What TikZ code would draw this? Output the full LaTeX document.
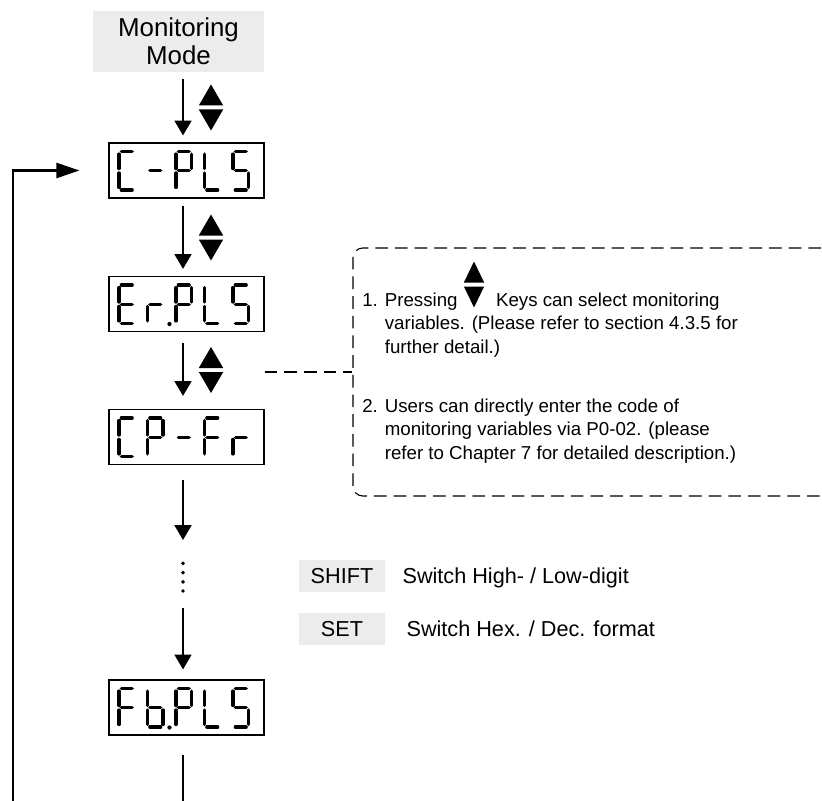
\documentclass[tikz,border=0pt]{standalone}
\usepackage{fontspec}
\setmainfont{Liberation Sans}
\usetikzlibrary{positioning,arrows.meta}

% one segment of a seven-segment digit, y runs downwards
\newcommand\ledseg[1]{%
  \if#1a\draw[segment] (2.4,0) -- (13.1,0);\fi
  \if#1b\draw[segment] (15.5,2.6) -- (15.5,17);\fi
  \if#1c\draw[segment] (15.5,21.5) -- (15.5,35.9);\fi
  \if#1d\draw[segment] (2.4,38.5) -- (13.1,38.5);\fi
  \if#1e\draw[segment] (0,21.5) -- (0,35.9);\fi
  \if#1f\draw[segment] (0,2.6) -- (0,17);\fi
  \if#1g\draw[segment] (2.4,19.25) -- (13.1,19.25);\fi
  \if#1p\fill (22,39) circle (1.5pt);\fi}
% five digits inside a display box
\newcommand\ledword[2]{%
  \foreach \segs [count=\i] in {#2}{%
    \begin{scope}[shift={(#1.center)}, shift={({-67.5+28.5*(\i-1)},-19)}]
      \foreach \s in \segs {\ledseg{\s}}
    \end{scope}}}

\begin{document}
\begin{tikzpicture}[x=0.025cm, y=-0.025cm,
  display/.style={draw, line width=0.8pt, minimum width=3.875cm, minimum height=1.375cm},
  keybox/.style={fill=gray!15, minimum width=2.15cm, minimum height=0.8cm, inner sep=0pt, font=\fontsize{15.4}{18}\selectfont},
  legend/.style={inner sep=0pt, font=\fontsize{15.4}{18}\selectfont},
  note/.style={inner sep=0pt, align=left, font=\fontsize{13.3}{16.4}\selectfont},
  segment/.style={line width=2.4pt, line cap=round},
  arr/.style={line width=1.3pt, -{Triangle[width=12pt,length=10.5pt]}},
  dashline/.style={line width=0.8pt, dash pattern=on 9pt off 5pt},
  updown/.pic={\fill (-12.2,-2) -- (12.2,-2) -- (0,-23) -- cycle;
               \fill (-12.2,2) -- (12.2,2) -- (0,23) -- cycle;}
]
\useasboundingbox (0,0) rectangle (822,801);
\clip (0,0) rectangle (822,801);

\node[fill=gray!15, minimum width=4.275cm, minimum height=1.525cm, inner sep=0pt,
  align=center, font=\fontsize{18.4}{20.1}\selectfont] (mon) at (178.5,41.5) {Monitoring\\Mode};

\node[display] (cpls) at (186.5,170.5) {};
\node[display] (erpls) at (186.5,304) {};
\node[display] (cpfr) at (186.5,437) {};
\node[display] (fbpls) at (186.5,707.5) {};

\ledword{cpls}{{a,f,e,d},{g},{a,b,f,g,e},{f,e,d},{a,f,g,c,d}}
\ledword{erpls}{{a,f,g,e,d},{e,g,p},{a,b,f,g,e},{f,e,d},{a,f,g,c,d}}
\ledword{cpfr}{{a,f,e,d},{a,b,f,g,e},{g},{a,f,g,e},{e,g}}
\ledword{fbpls}{{a,f,g,e},{f,g,e,d,c,p},{a,b,f,g,e},{f,e,d},{a,f,g,c,d}}

\coordinate (ax) at (183,0);
\coordinate (dots) at (183,577);
\coordinate (loopR) at (183,805);
\coordinate (loopL) at (13,805);

% main chain
\draw[arr, shorten <=0.175cm, shorten >=0.175cm] (mon.south -| ax) -- (cpls.north -| ax);
\draw[arr, shorten <=0.175cm, shorten >=0.175cm] (cpls.south -| ax) -- (erpls.north -| ax);
\draw[arr, shorten <=0.275cm, shorten >=0.325cm] (erpls.south -| ax) -- (cpfr.north -| ax);
\draw[arr, shorten <=0.375cm, shorten >=0.925cm] (cpfr.south -| ax) -- (dots);
\draw[arr, shorten <=0.775cm, shorten >=0.25cm] (dots) -- (fbpls.north -| ax);
\foreach \y in {563.3,572.7,581.8,591} \fill (183,\y) circle (1.4pt);
\draw[line width=1.3pt, shorten <=0.475cm] (fbpls.south -| ax) -- (loopR);
\draw[line width=1.8pt, -{Triangle[width=10.7pt,length=16.4pt]}, shorten >=0.725cm]
  (loopL) |- (cpls.west);

\pic at (211,107.5) {updown};
\pic at (211,237.5) {updown};
\pic at (211,370) {updown};

% note
\node[draw, dashline, rounded corners=0.25cm, minimum width=11.95cm, minimum height=6.2cm]
  (notebox) at (592,372) {};
\draw[dashline] (erpls.east |- notebox.west) -- (notebox.west);
\node[note, anchor=base west] (item1) at (362,353)
  {1. Pressing\hspace{27.4pt}Keys can select monitoring\\
   \phantom{1. }variables. (Please refer to section 4.3.5 for\\
   \phantom{1. }further detail.)};
\pic[xscale=0.83] at (474,284.5) {updown};
\node[note, anchor=base west] (item2) at (362,459)
  {2. Users can directly enter the code of\\
   \phantom{2. }monitoring variables via P0-02. (please\\
   \phantom{2. }refer to Chapter 7 for detailed description.)};

% keys
\node[keybox] (shiftkey) at (342,576) {SHIFT};
\node[legend, base right=0.425cm of shiftkey] (shifttext) {Switch High- / Low-digit};
\node[keybox] (setkey) at (342,629) {SET};
\node[legend, base right=0.525cm of setkey] (settext) {Switch Hex. / Dec. format};
\end{tikzpicture}
\end{document}
